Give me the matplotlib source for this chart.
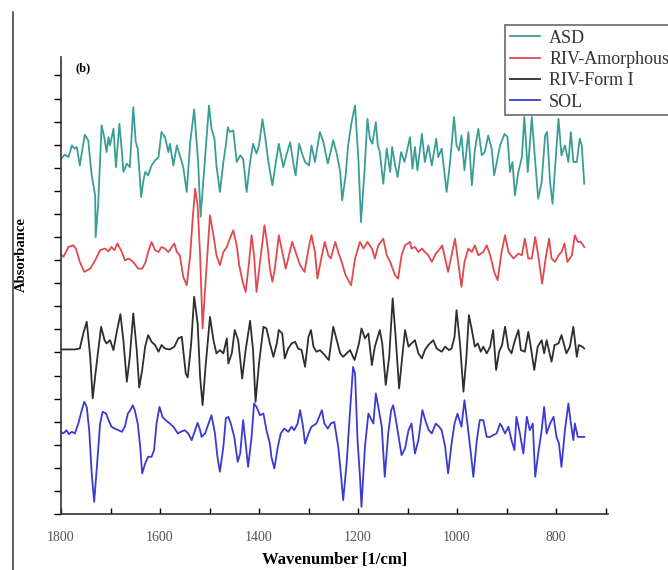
import numpy as np
import matplotlib
matplotlib.use("Agg")
import matplotlib.pyplot as plt
from matplotlib.lines import Line2D

# values (second-derivative spectra, arbitrary units)
asd_wn = [1800, 1792, 1785, 1778, 1773, 1768, 1762, 1752, 1745, 1738, 1731, 1730, 1725, 1718, 1712, 1708,
          1704, 1701, 1694, 1689, 1682, 1677, 1674, 1667, 1661, 1654, 1649, 1645, 1638, 1634, 1630, 1624,
          1617, 1610, 1603, 1597, 1590, 1583, 1580, 1573, 1566, 1560, 1553, 1546, 1539, 1531, 1523, 1518,
          1501, 1496, 1490, 1486, 1479, 1472, 1467, 1463, 1459, 1452, 1445, 1438, 1432, 1425, 1418, 1412,
          1405, 1400, 1393, 1388, 1381, 1373, 1366, 1360, 1351, 1344, 1337, 1331, 1326, 1319, 1313,
          1307, 1299, 1294, 1287, 1277, 1270, 1261, 1250, 1243, 1236, 1232, 1225, 1220, 1213, 1206, 1199,
          1194, 1187, 1181, 1176, 1171, 1164, 1160, 1156, 1149, 1142, 1135, 1131, 1125, 1120, 1113, 1106,
          1095, 1090, 1085, 1080, 1071, 1065, 1058, 1051, 1042, 1038, 1031, 1021, 1014, 1006, 1001, 996,
          991, 985, 977, 970, 964, 957, 950, 944, 937, 930, 925, 913, 904, 898, 893, 888, 883, 876, 869,
          864, 857, 849, 842, 836, 829, 822, 818, 812, 807, 801, 795, 789, 782, 775, 770, 765, 758, 752,
          748, 743]
asd_val = [-0.06, 0.12, 0.01, 0.52, 0.38, 0.45, -0.35, 0.98, 0.74, -0.78, -1.65, -3.45, -2.08, 1.39, 0.81, 0.23,
           0.88, 0.52, 1.24, -0.42, 1.46, 0.23, -0.63, -0.27, -0.42, 2.18, 0.66, 0.38, -1.72, -1.07, -0.63, -0.78,
           -0.35, -0.13, 0.01, 1.10, 0.88, 0.23, 0.59, -0.35, 0.52, 0.09, -0.42, -1.50, 0.66, 2.08, -0.20, -2.58,
           2.25, 1.24, 0.81, -0.35, -1.50, -0.20, 0.52, 1.31, 1.10, 1.17, -0.20, 0.09, -0.06, -1.50, -0.20, 0.59,
           0.16, 0.52, 1.65, 0.95, -0.20, -1.21, -0.20, 0.59, -0.42, 0.16, 0.66, -0.20, -0.78, 0.59, 0.16,
           -0.20, -0.35, 0.52, -0.20, 1.10, 0.66, -0.27, 0.74, 0.16, -0.63, -1.86, -0.78, 0.52, 1.53, 2.25, -0.20,
           -2.80, -0.63, 1.67, 0.81, 0.59, 1.53, 0.52, 0.23, -1.14, 0.38, -0.63, 0.45, -0.35, -0.85, 0.23, -0.20,
           0.88, -0.49, 0.45, -0.56, 1.02, -0.20, 0.52, -0.35, 0.81, 0.01, 0.38, -1.50, -0.20, 1.75, 0.52, 0.30,
           0.95, -0.56, 1.10, -1.21, 0.30, 1.24, 0.09, 0.23, 0.95, 0.38, -0.78, 0.52, 1.02, 0.88, -0.63, -0.20, -1.65, -0.63, 0.01,
           1.75, -0.63, 1.75, -0.20, -1.79, -1.07, 0.95, 1.10, -1.07, -2.01, -0.20, 1.67, 0.09, 0.52, -0.20, 1.10, -0.20, -0.20, 0.81,
           0.52, -1.14]

amo_wn = [1800, 1795, 1785, 1775, 1770, 1762, 1753, 1741, 1731, 1721, 1711, 1704, 1698, 1692, 1686, 1677,
          1671, 1663, 1654, 1644, 1636, 1629, 1624, 1617, 1610, 1603, 1597, 1590, 1583, 1576, 1571, 1566,
          1560, 1553, 1546, 1539, 1534, 1529, 1524, 1519, 1514, 1508, 1499, 1492, 1486, 1479, 1472, 1465,
          1459, 1452, 1445, 1440, 1433, 1427, 1420, 1415, 1410, 1405, 1398, 1389, 1383, 1378, 1373, 1368,
          1360, 1353, 1346, 1341, 1333, 1326, 1317, 1308, 1300, 1294, 1287, 1282, 1273, 1267, 1260, 1255,
          1246, 1240, 1233, 1225, 1214, 1206, 1196, 1189, 1181, 1172, 1166, 1159, 1149, 1142, 1135, 1125,
          1119, 1112, 1105, 1095, 1092, 1085, 1078, 1071, 1065, 1058, 1051, 1043, 1034, 1030, 1018, 1004,
          991, 985, 977, 970, 964, 957, 947, 940, 933, 925, 918, 910, 903, 896, 886, 876, 869, 863, 856,
          849, 842, 836, 828, 821, 814, 809, 802, 795, 789, 783, 777, 768, 762, 756, 750, 743]
amo_val = [0.03, -0.07, 0.36, 0.43, 0.29, -0.29, -0.72, -0.58, -0.22, 0.22, 0.29, 0.17, 0.36, 0.22, 0.51, 0.14,
           -0.22, -0.14, -0.29, -0.58, -0.58, -0.29, 0.14, 0.58, 0.22, 0.14, 0.36, 0.29, 0.14, 0.36, 0.51, 0.14,
           0.00, -0.94, -1.30, 0.00, 1.59, 2.89, 2.16, 0.00, -3.17, -1.15, 1.73, 0.87, 0.00, -0.43, 0.14, 0.36,
           0.72, 1.08, 0.43, -0.43, -1.15, -1.59, -0.29, 0.87, 0.00, -1.59, -0.29, 1.30, 0.43, -0.58, -1.15, -0.58,
           0.87, 0.14, -0.58, -0.14, 0.58, 0.14, -0.43, -0.72, 0.29, 0.87, 0.14, -1.01, 0.00, 0.58, 0.00, -0.14,
           0.58, 0.14, -0.29, -0.87, -1.30, -0.14, 0.58, 0.29, 0.58, 0.29, -0.14, 0.43, 0.72, 0.00, -0.29, -0.87,
           -1.01, 0.00, 0.43, 0.58, 0.29, 0.36, 0.14, 0.29, 0.14, 0.00, -0.29, 0.07, 0.29, 0.43, -0.72, 0.72,
           -1.37, -0.29, 0.29, 0.14, 0.43, 0.00, 0.14, 0.43, 0.00, -0.72, -1.08, 0.14, 0.87, 0.14, -0.14, 0.07, 0.00, 0.72, -0.14,
           -0.14, 0.79, 0.00, -1.23, -0.14, 0.72, -0.14, -0.29, 0.00, 0.14, 0.51, -0.29, 0.00, 0.87, 0.58, 0.58, 0.36]

form1_wn = [1800, 1785, 1772, 1762, 1755, 1748, 1741, 1736, 1728, 1719, 1712, 1708, 1701, 1694, 1688, 1680,
            1674, 1667, 1661, 1654, 1647, 1642, 1636, 1630, 1624, 1617, 1610, 1603, 1597, 1590, 1580, 1571,
            1563, 1556, 1548, 1544, 1537, 1531, 1524, 1519, 1514, 1508, 1499, 1492, 1486, 1479, 1472, 1465,
            1462, 1455, 1449, 1442, 1434, 1427, 1418, 1412, 1407, 1400, 1391, 1385, 1378, 1371, 1364, 1360,
            1353, 1348, 1341, 1334, 1327, 1321, 1314, 1307, 1300, 1295, 1290, 1284, 1277, 1267, 1259, 1250,
            1243, 1236, 1230, 1223, 1216, 1207, 1198, 1193, 1186, 1179, 1172, 1166, 1156, 1151, 1144, 1137,
            1130, 1124, 1117, 1112, 1105, 1098, 1092, 1085, 1078, 1071, 1065, 1058, 1048, 1041, 1031, 1024,
            1016, 1011, 1005, 1001, 994, 987, 981, 976, 970, 964, 958, 952, 947, 940, 933, 927, 921, 915, 909,
            903, 896, 890, 883, 876, 871, 863, 856, 851, 844, 837, 829, 824, 819, 809, 803, 795, 789, 779, 772,
            765, 758, 754, 747, 743]
form1_val = [0.00, 0.00, 0.00, 0.04, 0.69, 1.20, -0.32, -2.12, -0.61, 0.98, 0.40, 0.26, 0.40, -0.03, 0.69, 1.53,
             0.40, -1.40, -0.32, 1.56, -0.03, -1.65, -0.89, 0.12, 0.62, 0.33, 0.19, -0.10, 0.19, 0.04, 0.00, 0.12,
             0.48, 0.55, -1.04, -1.21, 0.26, 2.28, 1.13, -1.18, -2.41, -0.75, 1.41, 0.40, -0.17, -0.03, -0.17, 0.48,
             -0.61, -0.17, 0.84, 0.40, -1.26, -0.03, 1.24, -0.03, -2.27, -0.61, 0.98, 0.91, 0.26, -0.32, 0.26, 0.84,
             0.69, -0.39, 0.04, 0.26, 0.33, 0.04, -0.03, -0.75, 0.55, 0.84, 0.12, -0.10, -0.03, -0.25, -0.46, 0.98,
             0.40, -0.17, -0.32, -0.17, -0.03, -0.46, 0.26, 0.91, 0.48, 0.69, -0.68, 0.12, 0.84, 0.26, -1.54, -0.32,
             2.21, 0.55, -1.69, -0.61, 0.84, 0.12, 0.26, 0.40, -0.17, -0.39, -0.03, 0.19, 0.40, 0.04, -0.10, 0.12,
             -0.03, 0.04, 0.55, 1.70, 0.26, -1.83, -0.32, 1.49, 0.84, 0.12, 0.26, -0.10, 0.12, -0.17, 0.12, 0.84, -0.89, -0.10, 0.19,
             0.98, 0.04, -0.17, 0.40, 0.84, -0.03, -0.10, 0.76, 0.12, -0.89, 0.12, 0.40, -0.17, 0.40, -0.53, 0.19, 0.26, 0.62, -0.17, 0.12,
             0.98, -0.32, 0.19, 0.12, 0.04]

sol_wn = [1800, 1795, 1789, 1784, 1778, 1772, 1765, 1758, 1753, 1748, 1743, 1738, 1733, 1728, 1721, 1716,
          1709, 1704, 1698, 1691, 1684, 1677, 1671, 1665, 1660, 1655, 1651, 1645, 1640, 1636, 1630, 1624,
          1617, 1612, 1607, 1601, 1595, 1589, 1580, 1573, 1564, 1558, 1550, 1543, 1536, 1529, 1524, 1519,
          1516, 1509, 1502, 1496, 1489, 1484, 1479, 1472, 1467, 1462, 1457, 1450, 1443, 1438, 1432, 1427,
          1422, 1415, 1410, 1405, 1398, 1391, 1385, 1378, 1375, 1369, 1362, 1356, 1349, 1341, 1334, 1329,
          1322, 1317, 1311, 1307, 1300, 1294, 1284, 1273, 1268, 1261, 1255, 1248, 1240, 1234, 1230, 1223,
          1216, 1210, 1206, 1201, 1196, 1193, 1186, 1179, 1169, 1164, 1159, 1152, 1146, 1139, 1133, 1129,
          1125, 1119, 1112, 1105, 1098, 1092, 1085, 1078, 1070, 1063, 1057, 1051, 1043, 1036, 1031, 1024,
          1018, 1011, 1005, 999, 991, 985, 979, 972, 967, 960, 954, 947, 940, 933, 927, 920, 913, 909, 903,
          896, 890, 884, 880, 873, 866, 859, 853, 847, 842, 836, 829, 824, 819, 812, 805, 799, 794, 789, 782,
          775, 770, 765, 762, 756, 750, 743]
sol_val = [0.00, -0.07, 0.07, -0.10, 0.00, -0.07, 0.36, 0.94, 1.30, 1.08, 0.07, -1.80, -3.03, -1.66, 0.36, 0.87,
           0.79, 0.51, 0.22, 0.14, 0.07, 0.00, 0.22, 0.79, 0.94, 1.15, 0.94, 0.36, -0.65, -1.80, -1.37, -1.08,
           -1.08, -0.79, 0.36, 1.08, 0.65, 0.51, 0.36, 0.22, -0.07, 0.00, 0.07, -0.07, -0.36, 0.07, 0.39, 0.07,
           -0.22, -0.07, 0.36, 0.72, -0.07, -1.08, -1.73, -0.65, 0.58, 0.65, 0.36, -0.22, -1.30, -0.94, 0.51, -0.51,
           -1.52, -0.22, 1.23, 1.08, 0.72, 0.79, 0.07, -0.51, -1.08, -1.59, -0.65, -0.07, 0.14, 0.00, 0.22, 0.07,
           0.36, 0.94, 0.22, -0.51, -0.07, 0.22, 0.36, 0.94, 0.36, 0.14, 0.36, 0.43, -0.65, -1.95, -2.96, -1.37,
           0.94, 2.81, 2.53, -0.36, -1.95, -3.25, -0.65, 0.79, 0.36, 1.66, 1.08, 0.22, -1.95, -0.07, 0.94, 1.15,
           0.72, -0.07, -1.01, -0.72, 0.07, 0.36, -0.94, -0.36, 0.94, 0.43, 0.07, -0.07, 0.36, 0.22, 0.07, -0.65,
           -1.80, -0.51, 0.36, 0.79, 0.22, 1.37, 0.36, -0.94, -1.95, -0.36, 0.51, 0.51, -0.22, -0.22, -0.14, -0.07, 0.36, 0.22, -0.07,
           0.22, -0.36, -0.79, 0.65, -0.07, -0.94, 0.65, 0.07, 0.36, -1.95, -0.94, 0.07, 1.08, -0.07, 0.36, 0.65, -0.22, -0.51, -1.52, 0.07,
           1.23, 0.36, -0.36, 0.36, -0.22, -0.22, -0.22]

labels = ["ASD", "RIV-Amorphous", "RIV-Form I", "SOL"]
colors = ["#3a9e96", "#e04a4f", "#2e2e2e", "#3b3bd0"]
offsets = [15.45, 11.21, 7.13, 3.56]
series = [(asd_wn, asd_val), (amo_wn, amo_val), (form1_wn, form1_val), (sol_wn, sol_val)]
for wn, val in series:
    assert len(wn) == len(val), (len(wn), len(val))

plt.rcParams['font.family'] = ['Liberation Serif', 'DejaVu Serif']

fig = plt.figure(figsize=(6.68, 5.70), dpi=100)
ax = fig.add_axes([61/668, 1 - 514/570, (608 - 61)/668, (514 - 57)/570])

for (wn, val), off, c in zip(series, offsets, colors):
    ax.plot(wn, np.array(val) + off, color=c, lw=1.3, solid_joinstyle='round')

ax.set_xlim(1800, 695)
ax.set_ylim(0, 19.8)
ax.set_xticks([1800, 1600, 1400, 1200, 1000, 800])
ax.set_xticks([1700, 1500, 1300, 1100, 900, 700], minor=True)
ax.set_yticks(np.arange(0, 20, 1))
ax.set_yticklabels([])
ax.tick_params(axis='x', direction='in', length=4, width=1, labelsize=10, labelcolor='#555555', pad=12)
ax.tick_params(axis='x', which='minor', direction='in', length=4, width=1)
ax.tick_params(axis='y', direction='out', length=5, width=1)
for s in ['top', 'right']:
    ax.spines[s].set_visible(False)
for s in ['left', 'bottom']:
    ax.spines[s].set_color('#333333')
    ax.spines[s].set_linewidth(1.2)

ax.set_xlabel("Wavenumber [1/cm]", fontsize=12, fontweight='bold', labelpad=6)
ax.set_ylabel("Absorbance", fontsize=10.5, fontweight='bold', va='center')
ax.yaxis.set_label_coords((21 - 61)/547, (514 - 255)/457)
ax.text(75/668, 1 - 68/570, "(b)", transform=fig.transFigure, fontsize=9, fontweight='bold', va='center')

# legend runs off the right edge, as in the source figure
handles = [Line2D([], [], color=c, lw=1.3) for c in colors]
leg = fig.legend(handles, labels, loc='upper left', bbox_to_anchor=(505/668, 1 - 25/570),
                 frameon=True, fancybox=False, fontsize=13, handlelength=1.7,
                 borderaxespad=0, labelspacing=0.24, borderpad=0.25, handletextpad=0.5)
leg.get_frame().set_edgecolor('#444444')
leg.get_frame().set_linewidth(1.2)
leg.set_zorder(10)
for t in leg.get_texts():
    t.set_color('#333333')

# left border of the screenshot frame
fig.add_artist(Line2D([13/668, 13/668], [0, 1 - 12/570], transform=fig.transFigure, color='#444444', lw=1.2))

fig.savefig("out.png", dpi=100)
